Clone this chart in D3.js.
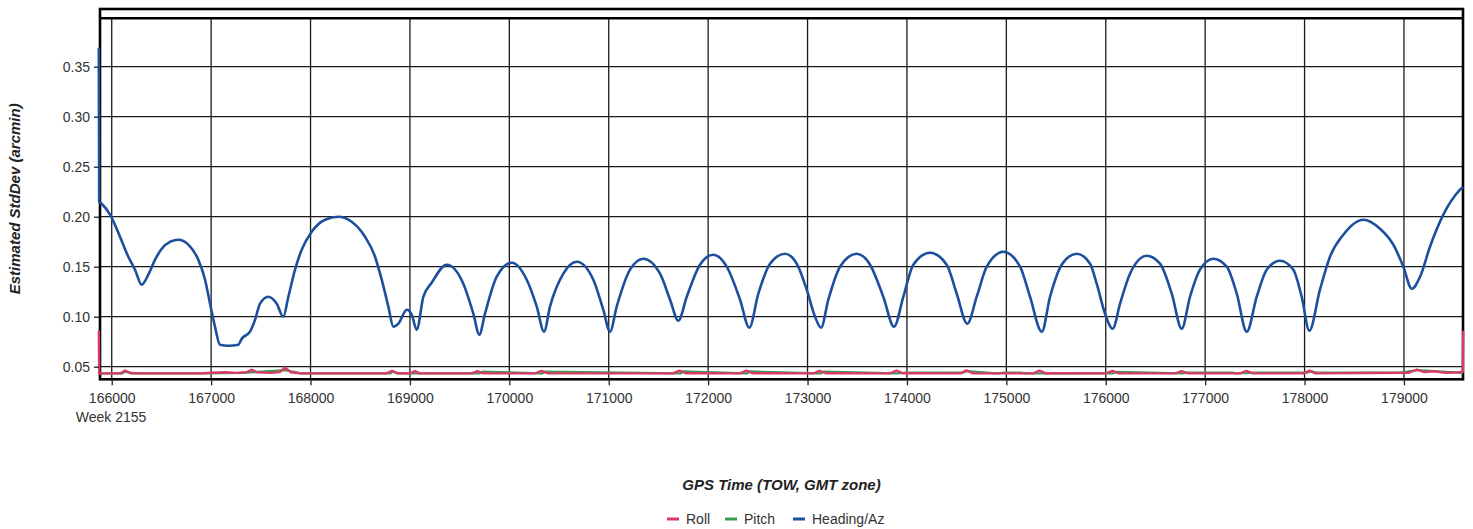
<!DOCTYPE html>
<html>
<head>
<meta charset="utf-8">
<script src="https://cdn.jsdelivr.net/npm/d3@7"></script>
<style>
  html, body { margin: 0; padding: 0; background: #fff; }
  svg { display: block; }
  text { font-family: "Liberation Sans", Arial, sans-serif; }
</style>
</head>
<body>
<svg id="chart" width="1473" height="529"></svg>
<script>
// ---------------- data ----------------
const seriesNames = ["Roll", "Pitch", "Heading/Az"];
const seriesColors = ["#d93a6a", "#3a9c4c", "#1c4f9d"];
const xTickValues = [166000,167000,168000,169000,170000,171000,172000,173000,174000,175000,176000,177000,178000,179000];
const yTickValues = [0.05,0.10,0.15,0.20,0.25,0.30,0.35];
const weekLabel = "Week 2155";
const xTitle = "GPS Time (TOW, GMT zone)";
const yTitle = "Estimated StdDev (arcmin)";
const xDomain = [165882, 179594];
const yDomain = [0.0374, 0.3984];

// Heading/Az: GPS time (s) and std dev (arcmin)
const headingTime = [165870,165874,165899,165983,166083,166167,166234,166302,166368,166436,166503,166590,166670,166771,166871,166939,166989,167039,167089,167173,167274,167308,167391,167442,167492,167575,167660,167726,167777,167844,167911,168012,168146,168280,168414,168548,168649,168716,168783,168833,168884,168968,169018,169068,169135,169219,169370,169537,169638,169698,169755,169873,170024,170175,170276,170349,170409,170543,170678,170845,170945,171013,171080,171214,171348,171516,171617,171700,171785,171918,172052,172187,172321,172414,172505,172623,172774,172891,172992,173075,173136,173209,173327,173495,173629,173762,173870,173964,174064,174232,174400,174501,174607,174702,174803,174970,175138,175238,175356,175440,175557,175708,175842,175909,175993,176070,176144,176244,176412,176546,176664,176764,176848,176948,177082,177217,177318,177418,177519,177619,177753,177887,177971,178048,178155,178256,178390,178591,178759,178893,178994,179078,179162,179262,179396,179564,179594];
const headingValue = [0.369,0.215,0.213,0.202,0.180,0.160,0.147,0.132,0.142,0.157,0.168,0.175,0.177,0.172,0.157,0.137,0.113,0.090,0.072,0.071,0.072,0.078,0.085,0.097,0.113,0.120,0.113,0.100,0.120,0.147,0.167,0.185,0.197,0.200,0.195,0.180,0.160,0.137,0.110,0.090,0.093,0.107,0.102,0.087,0.120,0.134,0.152,0.133,0.103,0.082,0.103,0.140,0.154,0.137,0.110,0.085,0.110,0.143,0.155,0.137,0.107,0.085,0.110,0.147,0.158,0.143,0.117,0.096,0.120,0.152,0.162,0.150,0.117,0.089,0.123,0.153,0.163,0.153,0.127,0.100,0.089,0.117,0.150,0.163,0.152,0.120,0.090,0.120,0.152,0.164,0.152,0.123,0.093,0.120,0.150,0.165,0.150,0.120,0.085,0.120,0.152,0.163,0.153,0.133,0.103,0.088,0.113,0.143,0.161,0.153,0.123,0.088,0.120,0.147,0.158,0.150,0.123,0.085,0.120,0.147,0.156,0.147,0.120,0.086,0.127,0.160,0.182,0.197,0.188,0.172,0.150,0.128,0.140,0.170,0.202,0.227,0.230];

// Roll
const rollTime = [165870,165874,165950,166090,166134,166180,166250,166900,167000,167150,167250,167360,167411,167460,167600,167690,167743,167800,167900,168760,168820,168880,169000,169051,169100,169620,169679,169740,170260,170323,170390,171650,171711,171780,172320,172385,172450,173060,173120,173190,173830,173894,173960,174540,174598,174660,175270,175333,175400,176000,176068,176130,176700,176762,176830,177350,177416,177480,177990,178050,178110,179050,179131,179200,179300,179420,179560,179592,179596];
const rollValue = [0.086,0.0432,0.0433,0.0434,0.0462,0.0440,0.0433,0.0433,0.0440,0.0445,0.0438,0.0446,0.0470,0.0444,0.0438,0.0446,0.0492,0.0445,0.0433,0.0433,0.0458,0.0434,0.0433,0.0456,0.0433,0.0433,0.0455,0.0433,0.0433,0.0458,0.0433,0.0433,0.0460,0.0434,0.0433,0.0462,0.0434,0.0433,0.0458,0.0434,0.0433,0.0462,0.0434,0.0433,0.0463,0.0435,0.0433,0.0460,0.0434,0.0433,0.0458,0.0433,0.0433,0.0456,0.0433,0.0433,0.0458,0.0433,0.0433,0.0460,0.0433,0.0440,0.0472,0.0446,0.0455,0.0438,0.0445,0.0450,0.086];

// Pitch
const pitchTime = [165882,165950,166100,166140,166200,166900,167300,167750,167900,168800,168830,168870,169700,169730,170330,170360,171720,171750,172390,172420,173130,173160,173900,174000,174300,174560,174600,174900,175000,175140,175200,176070,176100,176770,176820,177280,177300,177524,178024,178060,178125,178960,179140,179594];
const pitchValue = [0.0433,0.0433,0.0433,0.0452,0.0433,0.0433,0.0438,0.0466,0.0433,0.0433,0.0452,0.0433,0.0433,0.0450,0.0433,0.0450,0.0433,0.0452,0.0433,0.0452,0.0433,0.0450,0.0433,0.0441,0.0441,0.0441,0.0456,0.0433,0.0441,0.0441,0.0433,0.0433,0.0448,0.0433,0.0441,0.0441,0.0433,0.0441,0.0441,0.0452,0.0441,0.0441,0.0466,0.0438];

// ---------------- layout ----------------
const svg = d3.select("#chart");
const L = 100, R = 1463, T = 18.3, B = 379.3, TOPBOX = 9;

const x = d3.scaleLinear().domain(xDomain).range([L, R]);
const y = d3.scaleLinear().domain(yDomain).range([B, T]);

// gridlines
const grid = svg.append("g");
grid.selectAll("line.v").data(xTickValues).join("line")
  .attr("x1", d => x(d)).attr("x2", d => x(d))
  .attr("y1", T).attr("y2", B)
  .attr("stroke", "#1a1a1a").attr("stroke-width", 1.3);
grid.selectAll("line.h").data(yTickValues).join("line")
  .attr("x1", L).attr("x2", R)
  .attr("y1", d => y(d)).attr("y2", d => y(d))
  .attr("stroke", "#1a1a1a").attr("stroke-width", 1.3);

// frame
svg.append("rect").attr("x", L).attr("y", TOPBOX).attr("width", R - L).attr("height", B - TOPBOX)
  .attr("fill", "none").attr("stroke", "#000").attr("stroke-width", 2.6);
svg.append("line").attr("x1", L).attr("x2", R).attr("y1", T).attr("y2", T)
  .attr("stroke", "#000").attr("stroke-width", 2.4);

// series
svg.append("clipPath").attr("id", "clip")
  .append("rect").attr("x", L - 3).attr("y", T + 1).attr("width", R - L + 5).attr("height", B - T - 2);

const line = d3.line().x(d => x(d[0])).y(d => y(d[1])).curve(d3.curveMonotoneX);
const lineLin = d3.line().x(d => x(d[0])).y(d => y(d[1]));

const pitchData = d3.zip(pitchTime, pitchValue);
const rollData = d3.zip(rollTime, rollValue);
const headingData = d3.zip(headingTime, headingValue);

const plot = svg.append("g").attr("clip-path", "url(#clip)");
plot.append("path").attr("d", lineLin(pitchData)).attr("fill", "none")
  .attr("stroke", seriesColors[1]).attr("stroke-width", 2.4).attr("stroke-linejoin", "round");
plot.append("path").attr("d", lineLin(rollData)).attr("fill", "none")
  .attr("stroke", seriesColors[0]).attr("stroke-width", 2.4).attr("stroke-linejoin", "round");
plot.append("path").attr("d", line(headingData)).attr("fill", "none")
  .attr("stroke", seriesColors[2]).attr("stroke-width", 2.6).attr("stroke-linejoin", "round");

// axes
const yAxis = d3.axisLeft(y).tickValues(yTickValues).tickFormat(d3.format(".2f")).tickSize(5).tickPadding(4);
const gy = svg.append("g").attr("transform", `translate(${L - 1},0)`).call(yAxis);
gy.select(".domain").remove();
gy.selectAll(".tick line").attr("stroke", "#222").attr("stroke-width", 1.3);
gy.selectAll(".tick text").attr("font-size", 14).attr("fill", "#333")
  .attr("font-family", "'Liberation Sans', Arial, sans-serif");

const xAxis = d3.axisBottom(x).tickValues(xTickValues).tickFormat(d3.format("d")).tickSize(5).tickPadding(8);
const gx = svg.append("g").attr("transform", `translate(0,${B + 1})`).call(xAxis);
gx.select(".domain").remove();
gx.selectAll(".tick line").attr("stroke", "#222").attr("stroke-width", 1.3);
gx.selectAll(".tick text").attr("font-size", 14).attr("fill", "#333")
  .attr("font-family", "'Liberation Sans', Arial, sans-serif");

svg.append("text").attr("x", x(xTickValues[0]) - 36).attr("y", 422)
  .attr("font-size", 14).attr("fill", "#333").text(weekLabel);

// titles
svg.append("text").attr("x", (L + R) / 2).attr("y", 490)
  .attr("text-anchor", "middle").attr("font-size", 15).attr("font-weight", "bold")
  .attr("font-style", "italic").attr("fill", "#222").text(xTitle);
svg.append("text").attr("transform", `translate(20,${(T + B) / 2}) rotate(-90)`)
  .attr("text-anchor", "middle").attr("font-size", 15).attr("font-weight", "bold")
  .attr("font-style", "italic").attr("fill", "#222").text(yTitle);

// legend
const legendX = [667, 725, 793];
const lg = svg.append("g");
seriesNames.forEach((name, i) => {
  lg.append("line").attr("x1", legendX[i]).attr("x2", legendX[i] + 12)
    .attr("y1", 519).attr("y2", 519).attr("stroke", seriesColors[i]).attr("stroke-width", 3);
  lg.append("text").attr("x", legendX[i] + 19).attr("y", 524)
    .attr("font-size", 14).attr("fill", "#333").text(name);
});
</script>
</body>
</html>
